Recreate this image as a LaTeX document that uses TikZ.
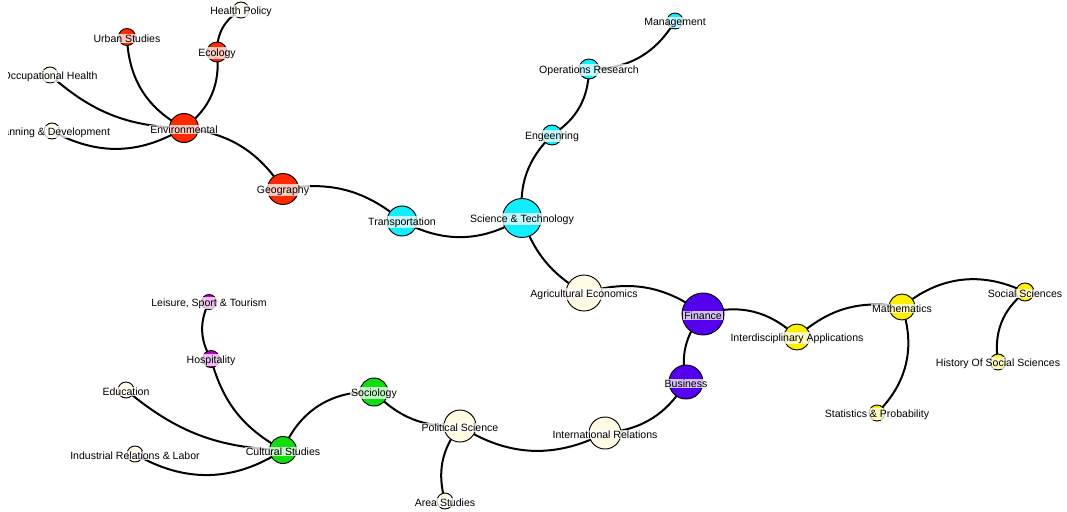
\documentclass[tikz,border=0pt]{standalone}
\usepackage{fontspec}
\setmainfont{Liberation Sans}
\pgfdeclarelayer{bg}
\pgfsetlayers{bg,main}
\definecolor{cRed}{HTML}{FF2A00}
\definecolor{cCyan}{HTML}{11EEFF}
\definecolor{cCream}{HTML}{FFFCE3}
\definecolor{cPurple}{HTML}{5500F0}
\definecolor{cYellow}{HTML}{FFF000}
\definecolor{cGreen}{HTML}{11DD11}
\definecolor{cMag}{HTML}{BB00CC}
\tikzset{
  dot/.style={circle, draw=black, line width=0.7pt, inner sep=0pt, minimum size={#1*1.5pt}},
  lbl/.style={fill=white, fill opacity=0.75, text opacity=1, inner sep=0.8pt, yshift=-1.1pt, font=\fontsize{7.9}{9}\selectfont},
  edge/.style={line width=1.5pt, black},
}
\begin{document}
\begin{tikzpicture}[x=0.75pt, y=-0.75pt]
\useasboundingbox (0,0) rectangle (1067,511);
\clip (8,0) rectangle (1067,511);
% nodes
\node[dot=14.5, fill=cRed, label={[lbl]center:Environmental}] (env) at (184,128) {};
\node[dot=15.5, fill=cRed, label={[lbl]center:Geography}] (geo) at (283,189) {};
\node[dot=8.5, fill=cRed, label={[lbl]center:Urban Studies}] (urb) at (127,37) {};
\node[dot=10, fill=cRed, label={[lbl]center:Ecology}] (eco) at (217,52) {};
\node[dot=8, fill=cCream, label={[lbl]center:Health Policy}] (hp) at (241,10) {};
\node[dot=8, fill=cCream, label={[lbl]center:Occupational Health}] (occ) at (50,75) {};
\node[dot=8, fill=cCream, label={[lbl]center:Planning \& Development}] (pd) at (52,131) {};
\node[dot=15, fill=cCyan, label={[lbl]center:Transportation}] (tra) at (402,221) {};
\node[dot=19.5, fill=cCyan, label={[lbl]center:Science \& Technology}] (st) at (522,218) {};
\node[dot=10, fill=cCyan, label={[lbl]center:Engeenring}] (eng) at (552,135) {};
\node[dot=10, fill=cCyan, label={[lbl]center:Operations Research}] (ops) at (589,69) {};
\node[dot=8, fill=cCyan, label={[lbl]center:Management}] (man) at (675,21) {};
\node[dot=18, fill=cCream, label={[lbl]center:Agricultural Economics}] (agr) at (584,293) {};
\node[dot=21, fill=cPurple, label={[lbl]center:Finance}] (fin) at (703,314) {};
\node[dot=17, fill=cPurple, label={[lbl]center:Business}] (bus) at (686,382) {};
\node[dot=13, fill=cYellow, label={[lbl]center:Interdisciplinary Applications}] (ia) at (797,337) {};
\node[dot=13, fill=cYellow, label={[lbl]center:Mathematics}] (mat) at (902,307) {};
\node[dot=9, fill=cYellow, label={[lbl]center:Social Sciences}] (ss) at (1025,292) {};
\node[dot=8, fill=cYellow, label={[lbl]center:History Of Social Sciences}] (his) at (998,362) {};
\node[dot=8, fill=cYellow, label={[lbl]center:Statistics \& Probability}] (sta) at (877,413) {};
\node[dot=16, fill=cCream, label={[lbl]center:International Relations}] (ir) at (605,433) {};
\node[dot=16, fill=cCream, label={[lbl]center:Political Science}] (ps) at (460,426) {};
\node[dot=8, fill=cCream, label={[lbl]center:Area Studies}] (area) at (445,501) {};
\node[dot=14, fill=cGreen, label={[lbl]center:Sociology}] (soc) at (374,392) {};
\node[dot=13.5, fill=cGreen, label={[lbl]center:Cultural Studies}] (cul) at (283,450) {};
\node[dot=8.5, fill=cMag, label={[lbl]center:Hospitality}] (hos) at (211,359) {};
\node[dot=7.5, fill=cMag, label={[lbl]center:{Leisure, Sport \& Tourism}}] (lei) at (209,302) {};
\node[dot=8, fill=cCream, label={[lbl]center:Education}] (edu) at (126,390) {};
\node[dot=8, fill=cCream, label={[lbl]center:Industrial Relations \& Labor}] (ind) at (135,454) {};
% edges
\begin{pgfonlayer}{bg}
\draw[edge] (env.center) to[bend left=30] (urb.center);
\draw[edge] (env.center) to[bend right=30] (eco.center);
\draw[edge] (eco.center) to[bend left=30] (hp.center);
\draw[edge] (env.center) to[bend left=20] (occ.center);
\draw[edge] (env.center) to[bend left=30] (pd.center);
\draw[edge] (env.center) to[bend left=25] (geo.center);
\draw[edge] (geo.center) to[bend left=25] (tra.center);
\draw[edge] (tra.center) to[bend right=30] (st.center);
\draw[edge] (st.center) to[bend left=25] (eng.center);
\draw[edge] (eng.center) to[bend right=28] (ops.center);
\draw[edge] (ops.center) to[bend right=30] (man.center);
\draw[edge] (st.center) to[bend right=20] (agr.center);
\draw[edge] (agr.center) to[bend left=27] (fin.center);
\draw[edge] (fin.center) to[bend left=30] (ia.center);
\draw[edge] (fin.center) to[bend right=26] (bus.center);
\draw[edge] (ia.center) to[bend left=26] (mat.center);
\draw[edge] (mat.center) to[bend left=33] (ss.center);
\draw[edge] (mat.center) to[bend left=32] (sta.center);
\draw[edge] (ss.center) to[bend right=30] (his.center);
\draw[edge] (bus.center) to[bend left=27] (ir.center);
\draw[edge] (ir.center) to[bend left=30] (ps.center);
\draw[edge] (ps.center) to[bend right=27] (area.center);
\draw[edge] (ps.center) to[bend left=24] (soc.center);
\draw[edge] (soc.center) to[bend right=35] (cul.center);
\draw[edge] (cul.center) to[bend left=23] (hos.center);
\draw[edge] (hos.center) to[bend left=28] (lei.center);
\draw[edge] (cul.center) to[bend left=19] (edu.center);
\draw[edge] (cul.center) to[bend left=32] (ind.center);
\end{pgfonlayer}
\end{tikzpicture}
\end{document}
